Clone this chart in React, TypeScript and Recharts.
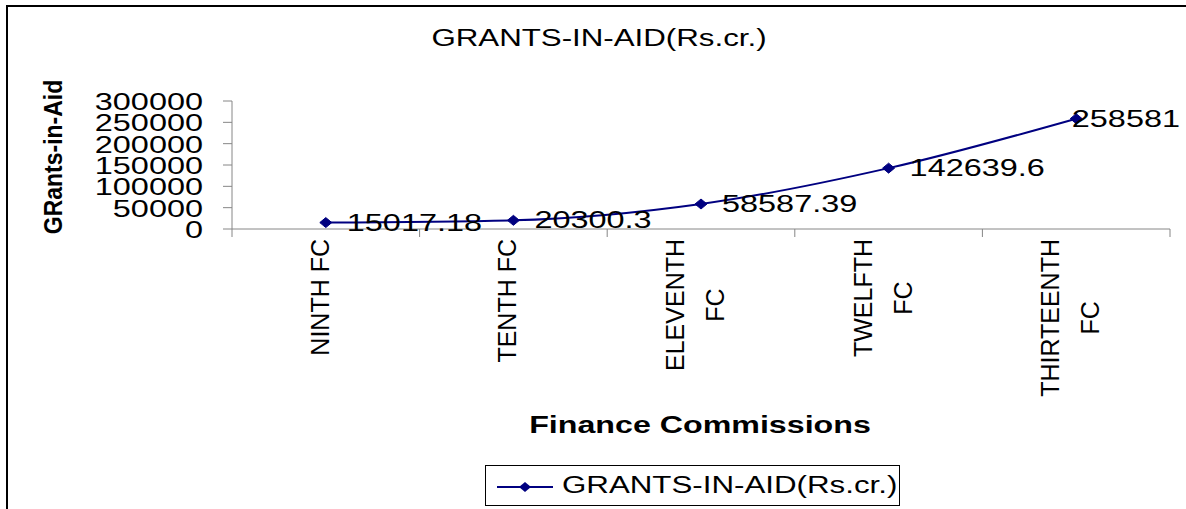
import React from 'react';
import { LineChart, Line, XAxis, YAxis, Legend, LabelList } from 'recharts';

// categories and values
const commissions = ['NINTH FC', 'TENTH FC', 'ELEVENTH FC', 'TWELFTH FC', 'THIRTEENTH FC'];
const tickLines = [['NINTH FC'], ['TENTH FC'], ['ELEVENTH', 'FC'], ['TWELFTH', 'FC'], ['THIRTEENTH', 'FC']];
const grants = [15017.18, 20300.3, 58587.39, 142639.6, 258581];
const yTicks = [0, 50000, 100000, 150000, 200000, 250000, 300000];

const seriesName = 'GRANTS-IN-AID(Rs.cr.)';
const FONT = "'Liberation Sans', Arial, Helvetica, sans-serif";
const NAVY = '#000080';
const AXIS = '#868686';
const S = 1.36; // the original text is stretched sideways
const SN = 1.41; // numbers are stretched a bit more

const data = commissions.map((name, i) => ({ pos: i + 0.5, name, value: grants[i] }));
const xTicks: number[] = [];
for (let i = 0; i <= commissions.length; i++) {
  xTicks.push(i);
  if (i < commissions.length) xTicks.push(i + 0.5);
}

let ctx: CanvasRenderingContext2D | null = null;
const measure = (txt: string, font: string) => {
  if (!ctx) ctx = document.createElement('canvas').getContext('2d');
  if (!ctx) return txt.length * 12;
  ctx.font = font;
  return ctx.measureText(txt).width;
};

const YTick = (props: any) => {
  const { x, y, payload } = props;
  return (
    <g transform={`translate(${x}, ${y + 9}) scale(${SN}, 1)`}>
      <text x={0} y={0} textAnchor="end" fontSize={23} fontFamily={FONT} fill="#000">
        {payload.value}
      </text>
    </g>
  );
};

const XTick = (props: any) => {
  const { x, y, payload } = props;
  const v = payload.value;
  if (Number.isInteger(v)) {
    return <line x1={x} y1={y} x2={x} y2={y + 8} stroke={AXIS} strokeWidth={1} />;
  }
  const lines = tickLines[Math.round(v - 0.5)];
  const L = Math.max(...lines.map((l) => measure(l, `25px ${FONT}`)));
  const cy = y + 10 + L / 2;
  return (
    <g>
      {lines.map((ln, k) => {
        const c = x - 6 + (k - (lines.length - 1) / 2) * 40;
        return (
          <text
            key={k}
            transform={`translate(${c + 9}, ${cy}) rotate(-90)`}
            textAnchor="middle"
            fontSize={25}
            fontFamily={FONT}
            fill="#000"
          >
            {ln}
          </text>
        );
      })}
    </g>
  );
};

const Diamond = (props: any) => {
  const { cx, cy, index } = props;
  return (
    <path
      key={`d-${index}`}
      d={`M${cx - 6},${cy} L${cx},${cy - 5} L${cx + 6},${cy} L${cx},${cy + 5} Z`}
      fill={NAVY}
      stroke={NAVY}
    />
  );
};

const ValueLabel = (props: any) => {
  const { x, y, value } = props;
  const txt = String(value);
  const w = measure(txt, `23px ${FONT}`) * SN;
  const left = Math.min(x + 21, 1180 - w);
  return (
    <g transform={`translate(${left}, ${y + 8}) scale(${SN}, 1)`}>
      <text x={0} y={0} fontSize={23} fontFamily={FONT} fill="#000">
        {txt}
      </text>
    </g>
  );
};

const LegendBox = () => (
  <div
    style={{
      width: 415,
      height: 41,
      boxSizing: 'border-box',
      border: '1px solid #000',
      background: '#fff',
      position: 'relative',
    }}
  >
    <svg width={70} height={39} style={{ position: 'absolute', left: 0, top: 0 }}>
      <line x1={11} y1={21} x2={67} y2={21} stroke={NAVY} strokeWidth={2} />
      <path d="M33,21 L39,16 L45,21 L39,26 Z" fill={NAVY} />
    </svg>
    <span
      style={{
        position: 'absolute',
        left: 76,
        top: 6,
        fontFamily: FONT,
        fontSize: 23,
        lineHeight: '26px',
        whiteSpace: 'nowrap',
        transform: `scaleX(${S})`,
        transformOrigin: 'left center',
        color: '#000',
      }}
    >
      {seriesName}
    </span>
  </div>
);

export default function App() {
  return (
    <div style={{ position: 'absolute', left: 0, top: 0, width: 1186, height: 509, overflow: 'hidden', background: '#fff' }}>
      <div
        style={{
          position: 'absolute',
          left: 6,
          top: 5,
          width: 1220,
          height: 540,
          border: '2px solid #000',
          boxSizing: 'border-box',
        }}
      />
      <div style={{ position: 'absolute', left: 0, top: 0 }}>
        <LineChart width={1186} height={509} data={data} margin={{ top: 101, right: 16, left: 0, bottom: 39 }}>
          <text transform={`translate(599, 46) scale(${S}, 1)`} textAnchor="middle" fontSize={23} fontFamily={FONT} fill="#000">
            {seriesName}
          </text>
          <text transform="translate(62, 157) scale(1.15, 1) rotate(-90)" textAnchor="middle" fontSize={23} fontWeight="bold" fontFamily={FONT} fill="#000">
            GRants-in-Aid
          </text>
          <text transform="translate(700, 433) scale(1.4, 1)" textAnchor="middle" fontSize={23} fontWeight="bold" fontFamily={FONT} fill="#000">
            Finance Commissions
          </text>
          <XAxis
            dataKey="pos"
            type="number"
            domain={[0, commissions.length]}
            ticks={xTicks}
            interval={0}
            tickSize={0}
            tickMargin={0}
            tickLine={false}
            tick={<XTick />}
            axisLine={{ stroke: AXIS, strokeWidth: 1 }}
            height={200}
          />
          <YAxis
            type="number"
            domain={[0, 300000]}
            ticks={yTicks}
            interval={0}
            width={232}
            tickSize={9}
            tickMargin={20}
            tick={<YTick />}
            tickLine={{ stroke: AXIS }}
            axisLine={{ stroke: AXIS, strokeWidth: 1 }}
          />
          <Legend
            verticalAlign="bottom"
            content={<LegendBox />}
            wrapperStyle={{ left: 485, bottom: 3, width: 415, height: 41 }}
          />
          <Line
            type="monotone"
            dataKey="value"
            name={seriesName}
            stroke={NAVY}
            strokeWidth={2}
            dot={<Diamond />}
            activeDot={false}
            isAnimationActive={false}
          >
            <LabelList dataKey="value" content={<ValueLabel />} />
          </Line>
        </LineChart>
      </div>
    </div>
  );
}
